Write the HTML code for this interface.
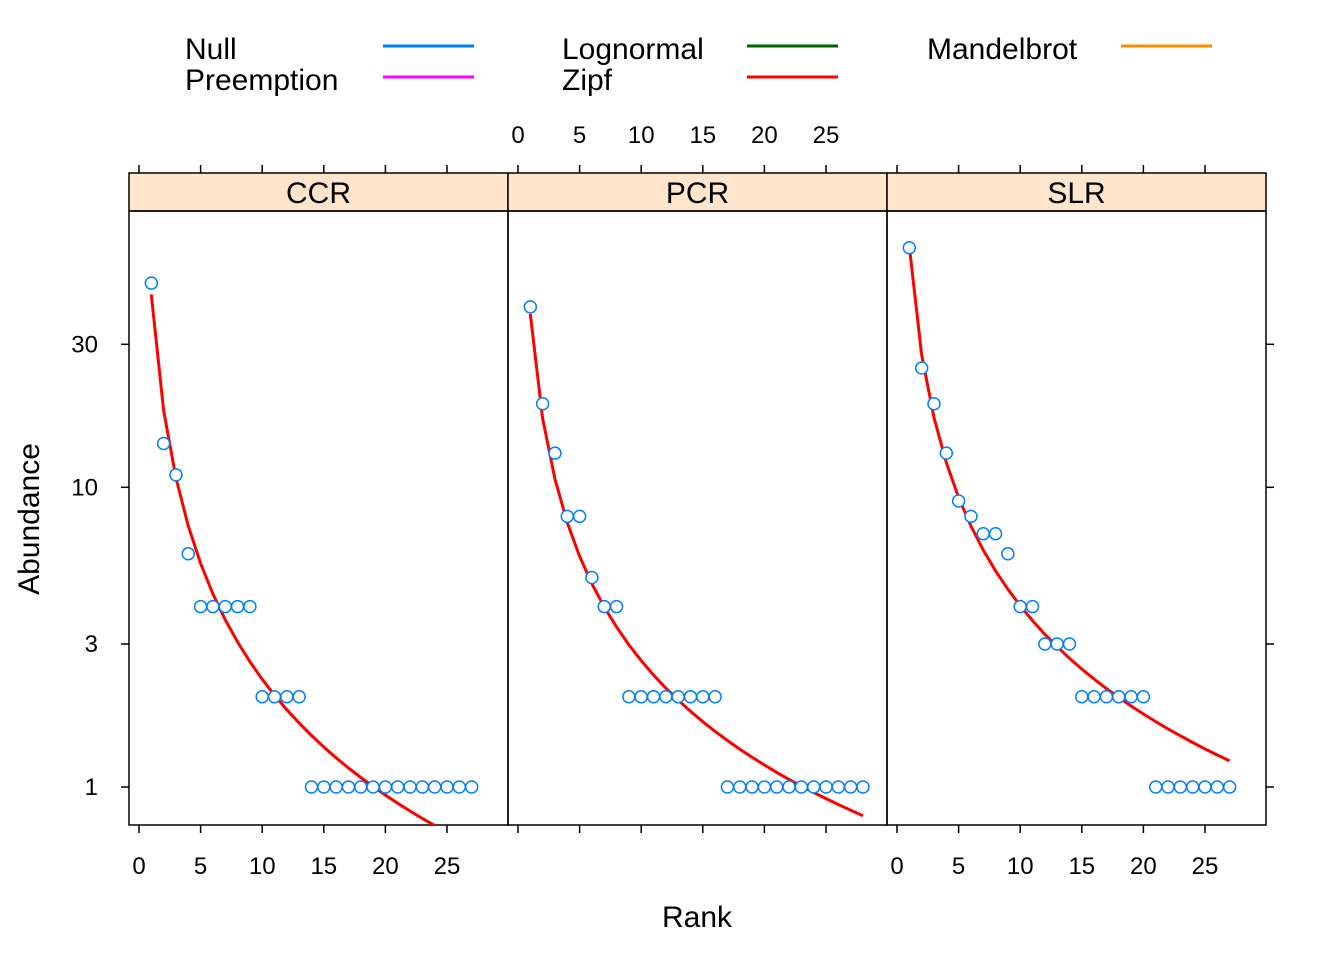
<!DOCTYPE html>
<html><head><meta charset="utf-8"><style>
body{margin:0;background:#fff}
svg{font-family:"Liberation Sans",Arial,sans-serif}
</style></head><body>
<svg id="c" width="1344" height="960" xmlns="http://www.w3.org/2000/svg"></svg>
<script>
const panels = ["CCR","PCR","SLR"];
const ccrValues = [48,14,11,6,4,4,4,4,4,2,2,2,2,1,1,1,1,1,1,1,1,1,1,1,1,1,1];
const pcrValues = [40,19,13,8,8,5,4,4,2,2,2,2,2,2,2,2,1,1,1,1,1,1,1,1,1,1,1,1];
const slrValues = [63,25,19,13,9,8,7,7,6,4,4,3,3,3,2,2,2,2,2,2,1,1,1,1,1,1,1];
const zipfA = [44, 37.9, 63.8];
const zipfB = [1.284, 1.157, 1.2];
const xTicks = [0,5,10,15,20,25];
const yTicks = [1,3,10,30];
const legendLabels = ["Null","Preemption","Lognormal","Zipf","Mandelbrot"];
const legendColors = ["#0080ff","#ff00ff","#006400","#ff0000","#ff8c00"];

const svg = document.getElementById('c');
const NS = "http://www.w3.org/2000/svg";
function mk(tag, attrs, parent){const e=document.createElementNS(NS,tag);for(const k in attrs)e.setAttribute(k,attrs[k]);(parent||svg).appendChild(e);return e;}
const pLeft=[129,508,887], pW=379, plotTop=211, plotBottom=825, stripTop=173;
function xs(i,v){return pLeft[i]+10+v*12.32;}
function ys(v){return 787-299.7*Math.log10(v);}
const allVals=[ccrValues,pcrValues,slrValues];

const legPos=[[185,48,383],[185,79,383],[562,48,747],[562,79,747],[927,48,1121]];
legendLabels.forEach((l,i)=>{
  const g=mk('g',{});
  
  
  const t=mk('text',{x:legPos[i][0],y:legPos[i][1]+11,'font-size':30},g);t.textContent=l;
  mk('line',{x1:legPos[i][2],x2:legPos[i][2]+91,y1:legPos[i][1]-2,y2:legPos[i][1]-2,stroke:legendColors[i],'stroke-width':3},g);
});

panels.forEach((p,i)=>{
  const L=pLeft[i];
  const g=mk('g',{});
  
  
  const st=mk('rect',{x:L,y:stripTop,width:pW,height:plotTop-stripTop,fill:'#ffe5cc',stroke:'#000','stroke-width':1.5},g);
  
  
  const tt=mk('text',{x:L+pW/2,y:203,'font-size':30,'text-anchor':'middle'},g);tt.textContent=p;
  mk('rect',{x:L,y:plotTop,width:pW,height:plotBottom-plotTop,fill:'none',stroke:'#000','stroke-width':1.5},g);
  const cid='clip'+i;
  const cp=mk('clipPath',{id:cid},g);mk('rect',{x:L,y:plotTop,width:pW,height:plotBottom-plotTop},cp);
  xTicks.forEach(t=>{
    const x=xs(i,t);
    mk('line',{x1:x,x2:x,y1:plotBottom,y2:plotBottom+8,stroke:'#000','stroke-width':1.5},g);
    mk('line',{x1:x,x2:x,y1:stripTop,y2:stripTop-8,stroke:'#000','stroke-width':1.5},g);
    if(i!==1){const tl=mk('text',{x:x,y:874,'font-size':24,'text-anchor':'middle'},g);tl.textContent=t;}
    else{const tl=mk('text',{x:x,y:143,'font-size':24,'text-anchor':'middle'},g);tl.textContent=t;}
  });
  const vals=allVals[i];
  let d='';
  vals.forEach((v,k)=>{const r=k+1;d+=(k?'L':'M')+xs(i,r).toFixed(1)+' '+ys(zipfA[i]*Math.pow(r,-zipfB[i])).toFixed(1);});
  const ln=mk('path',{d:d,fill:'none',stroke:'#ff0000','stroke-width':3,'clip-path':'url(#'+cid+')'},g);
  
  
  vals.forEach((v,k)=>{
    const c=mk('circle',{cx:xs(i,k+1),cy:ys(v),r:6,fill:'#fff',stroke:'#0080ff','stroke-width':1.5},g);
    
    
  });
});
yTicks.forEach(t=>{
  const y=ys(t);
  mk('line',{x1:129,x2:121,y1:y,y2:y,stroke:'#000','stroke-width':1.5});
  mk('line',{x1:1266,x2:1274,y1:y,y2:y,stroke:'#000','stroke-width':1.5});
  const tl=mk('text',{x:98,y:y+8,'font-size':24,'text-anchor':'end'});tl.textContent=t;
});
const xl=mk('text',{x:697,y:927,'font-size':30,'text-anchor':'middle'});xl.textContent='Rank';


const yl=mk('text',{x:0,y:0,'font-size':30,'text-anchor':'middle',transform:'translate(39,519) rotate(-90)'});yl.textContent='Abundance';


</script>
</body></html>
